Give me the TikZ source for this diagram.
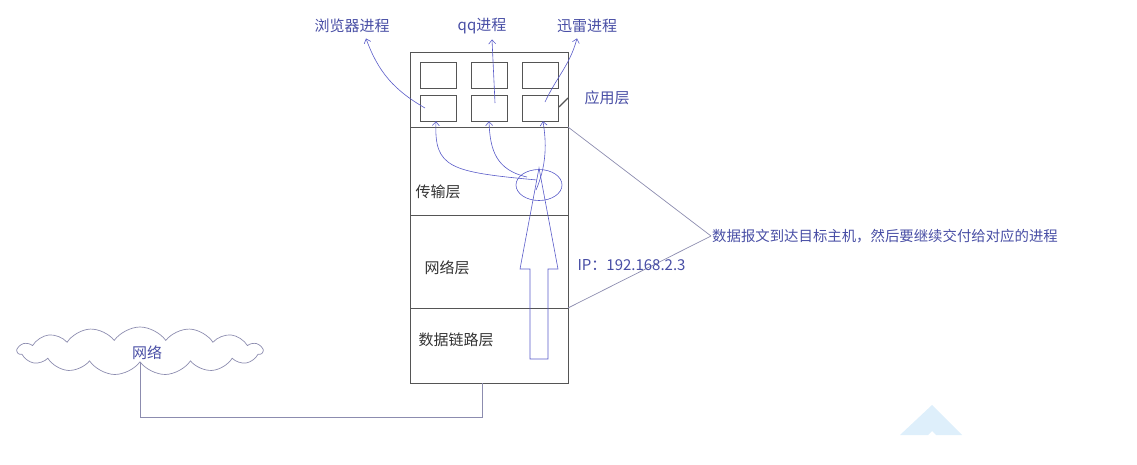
\documentclass[tikz,border=0pt]{standalone}
\usepackage{fontspec}
\setmainfont{Noto Sans CJK SC}
\usepackage{xcolor}
\usepackage{tikz}
\usetikzlibrary{shapes.geometric, shapes.symbols, arrows.meta, positioning, calc}

\definecolor{penblue}{RGB}{88,90,200}
\definecolor{textblue}{RGB}{72,78,165}
\definecolor{framegray}{RGB}{85,85,85}
\definecolor{notegray}{RGB}{140,140,175}
\definecolor{wmblue}{RGB}{222,239,251}

\tikzset{
  procbox/.style={draw=framegray, minimum width=36pt, minimum height=26pt, inner sep=0pt},
  layerlabel/.style={text=black!80, font=\fontsize{15}{17}\selectfont},
  bluelabel/.style={text=textblue, font=\fontsize{15}{17}\selectfont},
  pen/.style={draw=penblue, line width=0.6pt},
  penarrow/.style={pen, -{Straight Barb[length=4pt,width=7pt]}},
  wire/.style={draw=notegray, line width=0.7pt},
}

\begin{document}
\begin{tikzpicture}[x=1pt, y=-1pt]

    \useasboundingbox (0,0) rectangle (1137,464);

    % Host: protocol stack
    \node[draw=framegray, line width=0.7pt, minimum width=158pt, minimum height=331pt,
          inner sep=0pt, anchor=north west] (host) at (410,52) {};
    \draw[framegray, line width=0.7pt] (410,127) -- (568,127);
    \draw[framegray, line width=0.7pt] (410,215) -- (568,215);
    \draw[framegray, line width=0.7pt] (410,308) -- (568,308);

    % Process windows of the application layer
    \foreach \c/\x in {1/438,2/489,3/540}
      \foreach \r/\y in {1/75.5,2/108}
        \node[procbox] (app\r\c) at (\x,\y) {};

    % Process labels
    \node[bluelabel] (browser) at (352,26) {浏览器进程};
    \node[bluelabel] (qq) at (482,26) {qq进程};
    \node[bluelabel] (xunlei) at (587,26) {迅雷进程};
    \node[bluelabel] (applayer) at (607,98) {应用层};
    \draw[framegray, line width=1.2pt] (559,107) -- (568,98);

    \draw[penarrow] ($(app21.center)+(-13,0)$) to[out=150, in=-70] ($(browser.south)+(14,2)$);
    \draw[penarrow] ($(app22.center)+(6,-5)$) -- ($(qq.south)+(10,2)$);
    \draw[penarrow] ($(app23.center)+(5,-6)$) to[out=65, in=-105] ($(xunlei.south)+(-10,2)$);

    % Layer labels
    \node[layerlabel] (transport) at (438,192) {传输层};
    \node[layerlabel] (network) at (447,268) {网络层};
    \node[layerlabel] (link) at (456,340) {数据链路层};

    % Demultiplexing in the transport layer
    \node[pen, ellipse, minimum width=46pt, minimum height=31pt, inner sep=0pt] (demux) at (539,185) {};
    \draw[penarrow] ($(demux.center)+(-2,-5)$) .. controls (450,172) and (434,168) .. ($(app21.south)+(-2,0)$);
    \draw[penarrow] ($(demux.center)+(-12,-8)$) .. controls (496,170) and (490,150) .. (app22.south);
    \draw[penarrow] ($(demux.center)+(-3,5)$) .. controls (549,160) and (545,135) .. ($(app23.south)+(3,0)$);

    % Hollow arrow: data rising through the stack
    \draw[pen] (530,359) -- (530,269) -- (520,269) -- (539,168) -- (558,269)
               -- (548,269) -- (548,359) -- cycle;

    % Note on the right
    \node[bluelabel, font=\fontsize{14.4}{17}\selectfont, anchor=west, inner sep=1pt] (note) at (711,236) {数据报文到达目标主机，然后要继续交付给对应的进程};
    \coordinate (appR) at (568,127);
    \coordinate (netR) at (568,308);
    \draw[wire] (appR) -- (note.west);
    \draw[wire] (netR) -- (note.west);
    \node[bluelabel, anchor=west] (ip) at (574,265) {IP：192.168.2.3};

    % Network cloud and cable to the host
    \node[cloud, draw=notegray, line width=0.7pt, cloud puffs=15, cloud puff arc=110, aspect=5,
          minimum width=245pt, minimum height=48pt, inner sep=0pt] (net) at (140,351) {};
    \node[bluelabel] (netlabel) at (147,353) {网络};
    \coordinate (floor) at (0,417);
    \coordinate (jack) at (482,383);
    \draw[wire] (net.south) -- (net.south |- floor) -| (jack);

    % Faint watermark
    \fill[wmblue] (900,435) -- (932,405) -- (962,435) -- (936,435) -- (932,431) -- (928,435) -- cycle;

\end{tikzpicture}
\end{document}
